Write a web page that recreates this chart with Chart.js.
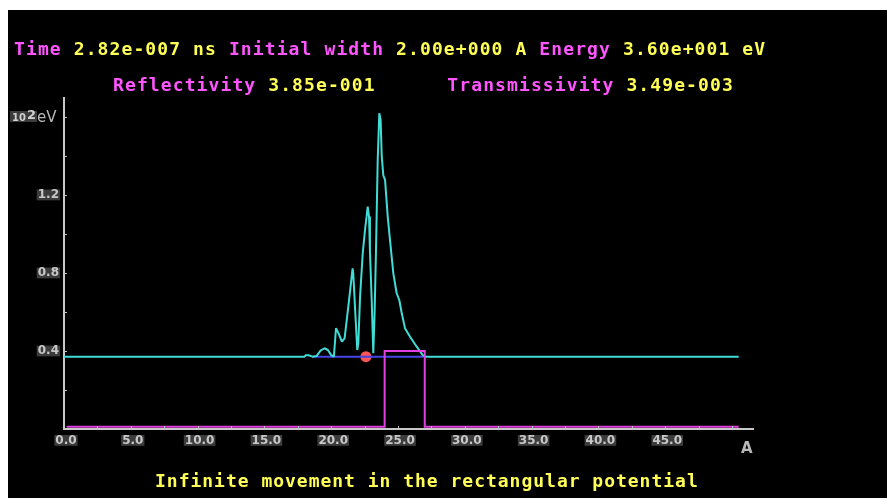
<!DOCTYPE html>
<html>
<head>
<meta charset="utf-8">
<script src="https://cdn.jsdelivr.net/npm/chart.js@4/dist/chart.umd.min.js"></script>
<style>
  html, body { margin: 0; padding: 0; background: #ffffff; }
  #frame { position: absolute; left: 8px; top: 10px; width: 879px; height: 488px; background: #000000; }
  canvas { display: block; }
</style>
</head>
<body>
<div id="frame"><canvas id="c" width="879" height="488"></canvas></div>
<script>
// Wave packet |psi|^2 drawn on top of its energy level (units of 10^2 eV vs. position in A)
const waveX = [0, 18.0, 18.1, 18.3, 18.6, 18.9, 19.2, 19.5, 19.75, 20.0, 20.2, 20.36, 20.55, 20.8, 21.0,
  21.2, 21.35, 21.6, 21.65, 21.8, 21.95, 22.03, 22.16, 22.36, 22.53, 22.65, 22.73, 22.83, 22.9, 23.03,
  23.15, 23.25, 23.35, 23.48, 23.6, 23.7, 23.78, 23.9, 24.03, 24.23, 24.35, 24.5, 24.65, 24.9, 25.1,
  25.28, 25.52, 25.9, 26.4, 26.85, 27.02, 50.5];
const waveY = [0.371, 0.371, 0.378, 0.378, 0.371, 0.374, 0.402, 0.414, 0.405, 0.379, 0.371, 0.517, 0.49, 0.448, 0.465,
  0.58, 0.670, 0.824, 0.798, 0.60, 0.405, 0.44, 0.678, 0.901, 1.021, 1.09, 1.14, 1.089, 0.909, 0.662,
  0.388, 0.60, 0.909, 1.379, 1.619, 1.585, 1.40, 1.30, 1.277, 1.089, 1.004, 0.90, 0.798, 0.696, 0.66,
  0.593, 0.517, 0.473, 0.422, 0.379, 0.371, 0.371];

// Segment of the energy level carried by the packet
const levelX = [18.6, 26.9];
const levelY = [0.371, 0.371];

// Rectangular potential barrier
const potX = [0.2, 24.0, 24.0, 27.0, 27.0, 50.5];
const potY = [0.012, 0.012, 0.40, 0.40, 0.012, 0.012];

// Packet centre marker
const centreX = [22.6];
const centreY = [0.371];

// Axis labels and inner tick marks
const xTickLabels = [0, 5, 10, 15, 20, 25, 30, 35, 40, 45];
const yTickLabels = [0.4, 0.8, 1.2];
const xTickMarks = [2.5, 5, 7.5, 10, 12.5, 15, 17.5, 20, 22.5, 25, 27.5, 30, 32.5, 35, 37.5, 40, 42.5, 45, 47.5, 50];
const yTickMarks = [0.2, 0.4, 0.6, 0.8, 1.0, 1.2, 1.4, 1.6];

// Header / footer text, as coloured runs
const headerLine1 = [
  ['Time ', '#ff55ff'], ['2.82e-007 ns ', '#ffff55'], ['Initial width ', '#ff55ff'],
  ['2.00e+000 A ', '#ffff55'], ['Energy ', '#ff55ff'], ['3.60e+001 eV', '#ffff55']
];
const headerLine2 = [
  ['Reflectivity ', '#ff55ff'], ['3.85e-001', '#ffff55'], ['      ', '#ffff55'],
  ['Transmissivity ', '#ff55ff'], ['3.49e-003', '#ffff55']
];
const footerLine = [['Infinite movement in the rectangular potential', '#ffff55']];

const pts = (xs, ys) => xs.map((x, i) => ({ x: x, y: ys[i] }));

function drawRuns(ctx, runs, x0, baseline, adv) {
  let col = 0;
  ctx.font = 'bold 18px "DejaVu Sans Mono", monospace';
  ctx.textBaseline = 'alphabetic';
  ctx.textAlign = 'left';
  for (const [txt, color] of runs) {
    ctx.fillStyle = color;
    for (let i = 0; i < txt.length; i++) {
      ctx.fillText(txt[i], x0 + (col + i) * adv, baseline);
    }
    col += txt.length;
  }
}

const decor = {
  id: 'decor',
  afterDraw(chart) {
    const ctx = chart.ctx;
    const xs = chart.scales.x, ys = chart.scales.y;
    const area = chart.chartArea;
    ctx.save();
    // inner tick marks
    ctx.strokeStyle = '#c0c0c0';
    ctx.lineWidth = 1;
    ctx.beginPath();
    for (const v of xTickMarks) {
      const px = Math.round(xs.getPixelForValue(v)) + 0.5;
      ctx.moveTo(px, area.bottom);
      ctx.lineTo(px, area.bottom - 3);
    }
    for (const v of yTickMarks) {
      const py = Math.round(ys.getPixelForValue(v)) + 0.5;
      ctx.moveTo(area.left, py);
      ctx.lineTo(area.left + 3, py);
    }
    ctx.stroke();

    // unit labels
    ctx.fillStyle = '#3c3c3c';
    ctx.fillRect(2, 101, 27, 11);
    ctx.fillStyle = '#d0d0d0';
    ctx.font = 'bold 10px "DejaVu Sans"';
    ctx.textBaseline = 'alphabetic';
    ctx.textAlign = 'left';
    ctx.fillText('10', 4, 111);
    ctx.font = 'bold 13px "DejaVu Sans"';
    ctx.fillText('2', 19, 109);
    ctx.fillStyle = '#b8b8b8';
    ctx.font = '15px "DejaVu Sans"';
    ctx.fillText('eV', 29, 112);
    ctx.font = 'bold 15px "DejaVu Sans"';
    ctx.fillText('A', 733, 443);

    // header and footer
    drawRuns(ctx, headerLine1, 6, 45, 11.94);
    drawRuns(ctx, headerLine2, 105, 81, 11.94);
    drawRuns(ctx, footerLine, 147, 477, 11.82);
    ctx.restore();
  }
};

const tickFont = { family: '"DejaVu Sans", sans-serif', size: 12, weight: 'bold', lineHeight: 0.9 };

new Chart(document.getElementById('c'), {
  type: 'line',
  data: {
    datasets: [
      { data: pts(potX, potY), borderColor: '#e040e0', borderWidth: 2, pointRadius: 0, tension: 0, fill: false },
      { data: pts(waveX, waveY), borderColor: '#40dcd6', borderWidth: 2, borderJoinStyle: 'bevel',
        pointRadius: 0, tension: 0, fill: false },
      { data: pts(levelX, levelY), borderColor: '#4646e6', borderWidth: 2, pointRadius: 0, tension: 0, fill: false },
      { data: pts(centreX, centreY), showLine: false, pointRadius: 5.5, pointBackgroundColor: '#ff5555',
        pointBorderWidth: 0, borderColor: '#ff5555' }
    ]
  },
  options: {
    responsive: false,
    animation: false,
    devicePixelRatio: 1,
    layout: { padding: { top: 88, right: 134, left: 0, bottom: 0 } },
    plugins: { legend: { display: false }, tooltip: { enabled: false }, title: { display: false } },
    scales: {
      x: {
        type: 'linear', min: 0, max: 51.57,
        grid: { display: false, drawTicks: false },
        border: { display: true, color: '#c8c8c8', width: 2 },
        afterBuildTicks: s => { s.ticks = xTickLabels.map(v => ({ value: v })); },
        afterFit: s => { s.height = 69; },
        ticks: {
          color: '#c8c8c8', font: tickFont, padding: 6, maxRotation: 0, autoSkip: false, labelOffset: 2,
          showLabelBackdrop: true, backdropColor: '#3c3c3c', backdropPadding: { left: 1, right: 1, top: 0, bottom: 0 },
          callback: v => Number(v).toFixed(1)
        }
      },
      y: {
        type: 'linear', min: 0, max: 1.697,
        grid: { display: false, drawTicks: false },
        border: { display: true, color: '#c8c8c8', width: 2 },
        afterBuildTicks: s => { s.ticks = yTickLabels.map(v => ({ value: v })); },
        afterFit: s => { s.width = 56; },
        ticks: {
          color: '#c8c8c8', font: tickFont, padding: 5, autoSkip: false,
          showLabelBackdrop: true, backdropColor: '#3c3c3c', backdropPadding: { left: 1, right: 1, top: 0, bottom: 0 },
          callback: v => Number(v).toFixed(1)
        }
      }
    }
  },
  plugins: [decor]
});
</script>
</body>
</html>
